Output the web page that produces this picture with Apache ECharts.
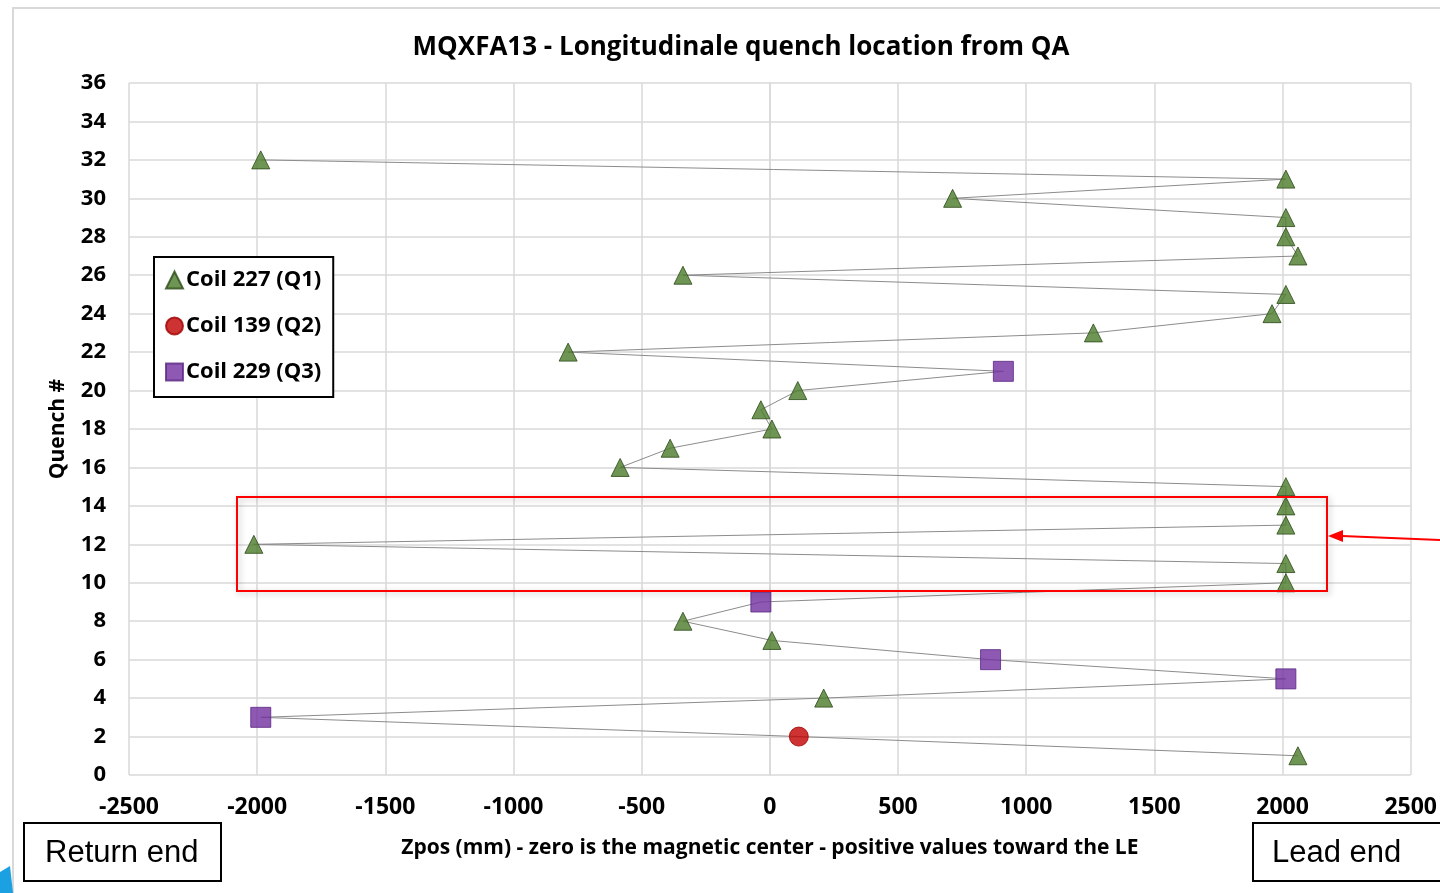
<!DOCTYPE html>
<html><head><meta charset="utf-8">
<script src="https://cdn.jsdelivr.net/npm/echarts@6/dist/echarts.min.js"></script>
<style>html,body{margin:0;padding:0;background:#fff}#c{width:1440px;height:893px}</style>
</head><body><div id="c"></div>
<script>
// Quench numbers and Zpos (mm) for each coil
const quenchQ1 = [1,4,7,8,10,11,12,13,14,15,16,17,18,19,20,22,23,24,25,26,27,28,29,30,31,32];
const zposQ1   = [2060,210,8,-339,2013,2013,-2013,2013,2013,2013,-584,-389,8,-35,109,-787,1262,1959,2013,-339,2060,2013,2013,713,2013,-1986];
const quenchQ2 = [2];
const zposQ2   = [113];
const quenchQ3 = [3,5,6,9,21];
const zposQ3   = [-1986,2013,861,-35,911];
const xTicks = [-2500,-2000,-1500,-1000,-500,0,500,1000,1500,2000,2500];
const yTicks = [0,2,4,6,8,10,12,14,16,18,20,22,24,26,28,30,32,34,36];
const seriesNames = ['Coil 227 (Q1)','Coil 139 (Q2)','Coil 229 (Q3)'];

const pts = (q, z) => q.map((v, i) => [z[i], v]);
const all = pts(quenchQ1, zposQ1).concat(pts(quenchQ2, zposQ2), pts(quenchQ3, zposQ3)).sort((a, b) => a[1] - b[1]);

const FONT = '"Open Sans", sans-serif';
const chart = echarts.init(document.getElementById('c'), null, {renderer: 'canvas'});
chart.setOption({
  animation: false,
  backgroundColor: '#fff',
  title: {text: 'MQXFA13 - Longitudinale quench location from QA', left: 736, top: 30, textAlign: 'center',
    textStyle: {fontFamily: FONT, fontWeight: 'bold', fontSize: 26, color: '#000'}},
  grid: {left: 129, right: 26, top: 83, bottom: 118},
  xAxis: {type: 'value', min: xTicks[0], max: xTicks[xTicks.length - 1], interval: 500,
    name: 'Zpos (mm) - zero is the magnetic center - positive values toward the LE',
    nameLocation: 'middle', nameGap: 63,
    nameTextStyle: {fontFamily: FONT, fontWeight: 'bold', fontSize: 21, color: '#000'},
    axisLine: {show: false}, axisTick: {show: false},
    axisLabel: {fontFamily: FONT, fontWeight: 'bold', fontSize: 23, color: '#000', margin: 21, formatter: v => String(v)},
    splitLine: {show: true, lineStyle: {color: '#d9d9d9', width: 1.5}}},
  yAxis: {type: 'value', min: yTicks[0], max: yTicks[yTicks.length - 1], interval: 2,
    name: 'Quench #', nameLocation: 'middle', nameGap: 60, nameRotate: 90,
    nameTextStyle: {fontFamily: FONT, fontWeight: 'bold', fontSize: 21, color: '#000'},
    axisLine: {show: true, lineStyle: {color: '#d9d9d9', width: 1.5}}, axisTick: {show: false},
    axisLabel: {fontFamily: FONT, fontWeight: 'bold', fontSize: 22, color: '#000', margin: 23, formatter: v => String(v)},
    splitLine: {show: true, lineStyle: {color: '#d9d9d9', width: 1.5}}},
  legend: {orient: 'vertical', left: 154, top: 257, data: seriesNames,
    padding: [12, 12, 14, 11], itemGap: 24, itemWidth: 17, itemHeight: 17,
    borderColor: '#000', borderWidth: 2, backgroundColor: '#fff',
    textStyle: {fontFamily: FONT, fontWeight: 'bold', fontSize: 22, color: '#000', padding: [0, 0, 0, -2]}},
  series: [
    {type: 'line', name: 'path', data: all, showSymbol: false, symbol: 'none', z: 1,
      lineStyle: {color: '#8c8c8c', width: 1}},
    {type: 'scatter', name: seriesNames[0], data: pts(quenchQ1, zposQ1), symbol: 'triangle', symbolSize: 18, z: 3,
      itemStyle: {color: '#4a7a28', borderColor: '#2c4a18', borderWidth: 1}},
    {type: 'scatter', name: seriesNames[1], data: pts(quenchQ2, zposQ2), symbol: 'circle', symbolSize: 19, z: 3,
      itemStyle: {color: '#c00000', borderColor: '#a00000', borderWidth: 1}},
    {type: 'scatter', name: seriesNames[2], data: pts(quenchQ3, zposQ3), symbol: 'rect', symbolSize: 20, z: 3,
      itemStyle: {color: '#7030a0', borderColor: '#5a2582', borderWidth: 1}}
  ],
  graphic: [
    {type: 'rect', shape: {x: 13, y: 8, width: 1440, height: 900}, style: {fill: 'none', stroke: '#d9d9d9', lineWidth: 2}, z: 0, silent: true},
    {type: 'rect', shape: {x: 237, y: 497, width: 1090, height: 94}, z: 10,
      style: {fill: 'none', stroke: '#ff0000', lineWidth: 2, shadowBlur: 6, shadowColor: 'rgba(0,0,0,0.25)', shadowOffsetX: 2, shadowOffsetY: 2}},
    {type: 'line', shape: {x1: 1440, y1: 540, x2: 1342, y2: 536}, style: {stroke: '#ff0000', lineWidth: 2}, z: 10},
    {type: 'polygon', shape: {points: [[1328, 536], [1343, 530], [1343, 542]]}, style: {fill: '#ff0000'}, z: 10},
    {type: 'rect', shape: {x: 24, y: 823, width: 197, height: 58}, style: {fill: '#fff', stroke: '#000', lineWidth: 2}, z: 10},
    {type: 'text', x: 45, y: 853, style: {text: 'Return end', font: '31px "Liberation Sans", Arial, sans-serif', fill: '#000', verticalAlign: 'middle'}, z: 11},
    {type: 'rect', shape: {x: 1253, y: 823, width: 200, height: 58}, style: {fill: '#fff', stroke: '#000', lineWidth: 2}, z: 10},
    {type: 'text', x: 1272, y: 853, style: {text: 'Lead end', font: '31px "Liberation Sans", Arial, sans-serif', fill: '#000', verticalAlign: 'middle'}, z: 11},
    {type: 'polygon', shape: {points: [[0, 872], [10, 866], [13, 893], [0, 893]]}, style: {fill: '#1ba1e2'}, z: 11}
  ]
});
</script></body></html>
